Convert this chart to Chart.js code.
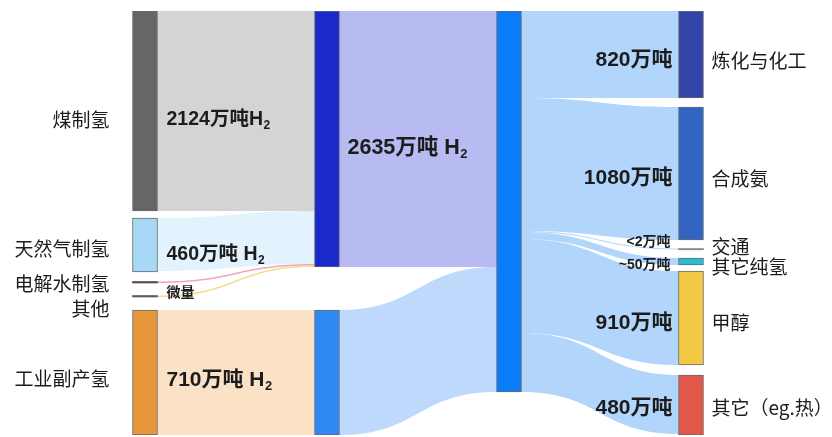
<!DOCTYPE html>
<html><head><meta charset="utf-8">
<script src="https://cdn.jsdelivr.net/npm/chart.js@4/dist/chart.umd.min.js"></script>
<style>html,body{margin:0;padding:0;background:#fff;}canvas{display:block;}</style>
</head><body>
<canvas id="c" width="832" height="437"></canvas>
<script>
// ---------- DATA ----------
const columnLabels = ['制氢来源', '来源汇总', '氢气总量', '下游用途'];
const nodeNames = ['煤制氢', '天然气制氢', '电解水制氢', '其他', '工业副产氢',
  '化石能源制氢', '工业副产', '氢气总量',
  '炼化与化工', '合成氨', '交通', '其它纯氢', '甲醇', '其它（eg.热）'];
const nodeColumns = [0, 0, 0, 0, 0, 1, 1, 2, 3, 3, 3, 3, 3, 3];
// floating node extents on the (relative) band axis, as drawn in the figure
const nodeLow  = [0, 207, 270.5, 284.5, 299, 0, 299, 0, 0, 96, 237.5, 247, 260, 364];
const nodeHigh = [200, 261, 272, 286, 424, 256, 424, 381, 87, 229, 238.8, 254, 354, 424];
// links: from node -> to node, drawn band size
const linkFrom = [0, 1, 2, 3, 4, 5, 6, 7, 7, 7, 7, 7, 7];
const linkTo   = [5, 5, 5, 5, 6, 7, 7, 8, 9, 10, 11, 12, 13];
const linkSize = [200, 53, 1.5, 1.5, 125, 256, 125, 87, 133, 1, 7, 94, 59];
// value annotations
const valueTexts = ['2124万吨H_2', '460万吨 H_2', '微量', '710万吨 H_2', '2635万吨 H_2',
  '820万吨', '1080万吨', '<2万吨', '~50万吨', '910万吨', '480万吨'];
const valueNodes = [0, 1, 3, 4, 5, 8, 9, 10, 11, 12, 13];

// ---------- STYLES ----------
const nodeFill = ['#666666', '#a7d8f5', '#5e4848', '#5c5c5c', '#e8963a',
  '#1a29cc', '#2e8af2', '#0a7cf7',
  '#3343a8', '#3265c2', '#8c8c8c', '#2bbcd5', '#f3c944', '#e05848'];
const nodeBorder = [1, 1, 0, 0, 1, 1, 1, 1, 1, 1, 0, 1, 1, 1];
const linkColor = ['#d4d4d4', '#e3f3fd', '#f2a4b6', '#f6d98a', '#fbe2c6', '#b7bbf1', '#bed9fb',
  '#b2d5fb', '#b2d5fb', '#b2d5fb', '#b2d5fb', '#b2d5fb', '#b2d5fb'];
const nameDy = {0: 9, 1: 4, 2: 2, 3: 13, 4: 6.5, 8: 6, 9: 5, 10: -2, 11: 5.5, 12: 5, 13: 3};
const valueStyle = [
  {dy: 9, size: 19.5}, {dy: 10, size: 19.5}, {dy: -3, size: 14}, {dy: 7.5, size: 21}, {dy: 9, size: 21.5},
  {dy: 5.5, size: 21}, {dy: 4.5, size: 21}, {dy: -7, size: 14}, {dy: 3.5, size: 14}, {dy: 5, size: 21}, {dy: 3, size: 21}
];
const NAME_FONT = '19px "Noto Sans CJK SC", "Noto Sans", sans-serif';
const boldFont = s => 'bold ' + s + 'px "Liberation Sans", "Noto Sans CJK SC", sans-serif';

const datasets = nodeNames.map((name, i) => ({
  label: name,
  data: columnLabels.map((_, c) => c === nodeColumns[i] ? [nodeLow[i], nodeHigh[i]] : null),
  backgroundColor: nodeFill[i],
  borderColor: 'rgba(55,55,65,0.75)',
  borderWidth: nodeBorder[i],
  borderSkipped: false,
  grouped: false,
  barThickness: 25
}));

function nodeEl(chart, i) {
  return chart.getDatasetMeta(i).data[nodeColumns[i]];
}

const flowPlugin = {
  id: 'flows',
  beforeDatasetsDraw(chart) {
    const ctx = chart.ctx, y = chart.scales.y;
    const srcOff = nodeLow.slice(), tgtOff = nodeLow.slice();
    ctx.save();
    linkFrom.forEach((f, k) => {
      const t = linkTo[k], s = linkSize[k];
      const a0 = srcOff[f], a1 = a0 + s; srcOff[f] = a1;
      const b0 = tgtOff[t], b1 = b0 + s; tgtOff[t] = b1;
      const se = nodeEl(chart, f), te = nodeEl(chart, t);
      const xs = se.x + se.width / 2, xt = te.x - te.width / 2, xm = (xs + xt) / 2;
      const ys0 = y.getPixelForValue(a0), ys1 = y.getPixelForValue(a1);
      const yt0 = y.getPixelForValue(b0), yt1 = y.getPixelForValue(b1);
      ctx.beginPath();
      ctx.moveTo(xs, ys0);
      ctx.bezierCurveTo(xm, ys0, xm, yt0, xt, yt0);
      ctx.lineTo(xt, yt1);
      ctx.bezierCurveTo(xm, yt1, xm, ys1, xs, ys1);
      ctx.closePath();
      ctx.fillStyle = linkColor[k];
      ctx.fill();
    });
    ctx.restore();
  },
  afterDatasetsDraw(chart) {
    const ctx = chart.ctx, y = chart.scales.y;
    ctx.save();
    ctx.fillStyle = '#1c1c1c';
    ctx.textBaseline = 'middle';
    // node names
    nodeNames.forEach((name, i) => {
      const col = nodeColumns[i];
      if (col !== 0 && col !== 3) return;
      const el = nodeEl(chart, i);
      const cy = y.getPixelForValue((nodeLow[i] + nodeHigh[i]) / 2) + nameDy[i];
      ctx.font = NAME_FONT;
      if (col === 0) { ctx.textAlign = 'right'; ctx.fillText(name, el.x - el.width / 2 - 23, cy); }
      else { ctx.textAlign = 'left'; ctx.fillText(name, el.x + el.width / 2 + 8, cy); }
    });
    // value labels
    valueTexts.forEach((txt, k) => {
      const i = valueNodes[k], el = nodeEl(chart, i), st = valueStyle[k];
      const cy = y.getPixelForValue((nodeLow[i] + nodeHigh[i]) / 2) + st.dy;
      const parts = txt.split('_');
      const main = parts[0], sub = parts[1] || '';
      const f = boldFont(st.size), sf = boldFont(Math.round(st.size * 0.62));
      ctx.font = f; const w1 = ctx.measureText(main).width;
      ctx.font = sf; const w2 = sub ? ctx.measureText(sub).width : 0;
      let x0;
      if (nodeColumns[i] === 3) x0 = el.x - el.width / 2 - (st.size > 15 ? 6 : 8) - (w1 + w2);
      else x0 = el.x + el.width / 2 + (nodeColumns[i] === 0 ? 9 : 8);
      ctx.textAlign = 'left';
      ctx.font = f; ctx.fillText(main, x0, cy);
      if (sub) { ctx.font = sf; ctx.fillText(sub, x0 + w1 + 0.5, cy + st.size * 0.3); }
    });
    ctx.restore();
  }
};

new Chart(document.getElementById('c'), {
  type: 'bar',
  data: { labels: columnLabels, datasets },
  options: {
    responsive: false,
    devicePixelRatio: 1,
    animation: false,
    events: [],
    layout: { padding: { left: 54, right: 50, top: 11, bottom: 2 } },
    plugins: { legend: { display: false }, tooltip: { enabled: false } },
    scales: {
      x: { type: 'category', display: false, offset: true },
      y: { type: 'linear', display: false, min: 0, max: 424, reverse: true }
    }
  },
  plugins: [flowPlugin]
});
</script>
</body></html>
